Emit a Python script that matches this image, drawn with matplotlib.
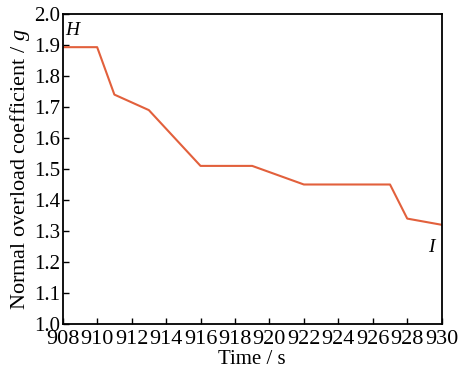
import matplotlib
matplotlib.use("Agg")
import matplotlib.pyplot as plt

# Data
time_s = [908, 910, 911, 913, 916, 919, 922, 927, 928, 930]
overload_g = [1.893, 1.893, 1.74, 1.69, 1.51, 1.51, 1.45, 1.45, 1.34, 1.32]
x_ticks = [908, 910, 912, 914, 916, 918, 920, 922, 924, 926, 928, 930]
y_ticks = [1.0, 1.1, 1.2, 1.3, 1.4, 1.5, 1.6, 1.7, 1.8, 1.9, 2.0]

plt.rcParams['font.family'] = ['Liberation Serif', 'DejaVu Serif']
plt.rcParams['mathtext.fontset'] = 'custom'
plt.rcParams['mathtext.it'] = 'Liberation Serif:italic'
plt.rcParams['mathtext.rm'] = 'Liberation Serif'

fig = plt.figure(figsize=(4.59, 3.72), dpi=100)
ax = fig.add_axes([62.7/459, 1 - 324/372, (441.7-62.7)/459, (324-14)/372])

ax.plot(time_s, overload_g, color='#E2603C', lw=1.5)

ax.set_xlim(908, 930)
ax.set_ylim(1.0, 2.0)
ax.set_xticks(x_ticks)
ax.set_yticks(y_ticks)
ax.set_yticklabels(['%.1f' % v for v in y_ticks])
ax.tick_params(direction='in', length=4, width=1, top=False, right=False)
ax.tick_params(axis='x', labelsize=16, pad=4)
ax.tick_params(axis='y', labelsize=15, pad=2)
for s in ax.spines.values():
    s.set_linewidth(1.3)

ax.set_xlabel('Time / s', fontsize=15)
ax.xaxis.set_label_coords(0.5, -0.085)
ax.set_ylabel('Normal overload coefficient / $g$', fontsize=16)
ax.yaxis.set_label_coords(-0.08, 0.5)

ax.text(908.15, 1.975, 'H', fontsize=14, style='italic', va='top', ha='left')
ax.text(929.6, 1.275, 'I', fontsize=14, style='italic', va='top', ha='right')

fig.savefig('out.png', dpi=100)
